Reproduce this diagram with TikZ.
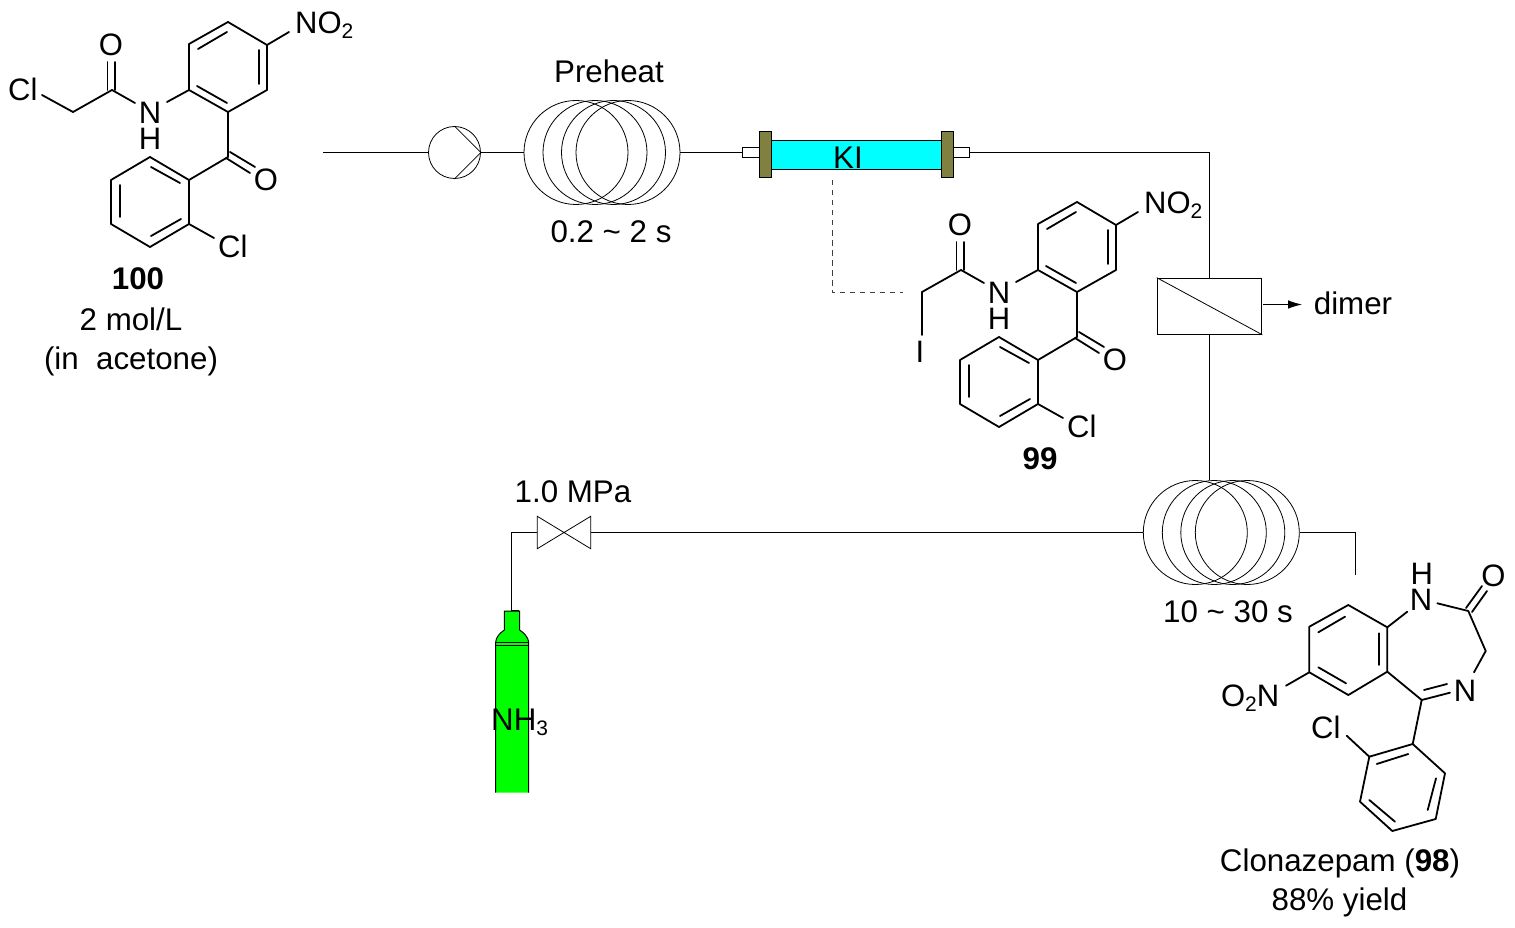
\documentclass[tikz,border=0pt]{standalone}
\usepackage{fontspec}
\setmainfont{Liberation Sans}
\usetikzlibrary{arrows.meta}
\newcommand{\lblfont}{\fontsize{31.3}{31.3}\selectfont}
\newcommand{\atomfont}{\fontsize{31}{31}\selectfont}
\newcommand{\subtwo}[1]{\raisebox{-5pt}{\fontsize{21}{21}\selectfont #1}}
\definecolor{flangecol}{RGB}{128,128,64}
\definecolor{kicyan}{RGB}{0,255,255}
\definecolor{gasgreen}{RGB}{0,255,0}
\tikzset{
  x=1pt,y=-1pt,
  bond/.style={line width=1.8pt,line cap=round,line join=round,black},
  pipe/.style={line width=1pt,black},
  thin line/.style={line width=0.8pt,black},
  lbl/.style={inner sep=0pt,anchor=base,yshift=-0.8pt,text=black,font=\lblfont},
  atom/.style={inner sep=0pt,anchor=base,yshift=-0.8pt,text=black,font=\atomfont},
  atomw/.style={inner sep=0pt,anchor=base west,yshift=-0.8pt,text=black,font=\atomfont},
  atome/.style={inner sep=0pt,anchor=base east,yshift=-0.8pt,text=black,font=\atomfont},
  coilbox/.style={inner sep=0pt,minimum width=156pt,minimum height=104pt},
  flange/.style={draw=black,line width=1.1pt,fill=flangecol,inner sep=0pt,minimum width=12pt,minimum height=46pt},
  stub/.style={draw=black,line width=1.1pt,fill=white,inner sep=0pt,minimum height=10pt},
}
% the amide half shared by 100 and 99: everything except the alpha substituent
\newcommand{\benzophenone}{%
  \coordinate (r1) at (228,22);
  \coordinate (r2) at (267,45);
  \coordinate (r3) at (267,90);
  \coordinate (r4) at (228,112);
  \coordinate (r5) at (189,90);
  \coordinate (r6) at (189,44);
  \coordinate (co) at (228,157);
  \coordinate (p1) at (189,180);
  \coordinate (p2) at (189,224);
  \coordinate (p3) at (150,247);
  \coordinate (p4) at (111,224);
  \coordinate (p5) at (111,180);
  \coordinate (p6) at (150,157);
  \coordinate (am) at (112,90);
  \coordinate (ch) at (73,112);
  \draw[bond] (r1)--(r2)--(r3)--(r4)--(r5)--(r6)--cycle;
  \draw[bond] (198,49)--(227,32);
  \draw[bond] (259,50)--(259,84);
  \draw[bond] (197,86)--(227,103);
  \draw[bond] (r2)--(289,32);
  \draw[bond] (r5)--(167,102);
  \draw[bond] (am)--(135,103);
  \draw[bond] (am)--(ch);
  \draw[bond] (107.5,62)--(107.5,90);
  \draw[bond] (115,62)--(115,90);
  \draw[bond] (r4)--(co)--(p1);
  \draw[bond] (226,158)--(250,173);
  \draw[bond] (230,152)--(255,167);
  \draw[bond] (p1)--(p2)--(p3)--(p4)--(p5)--(p6)--cycle;
  \draw[bond] (151,167)--(180,183);
  \draw[bond] (120,185)--(120,217);
  \draw[bond] (151,236)--(181,219);
  \draw[bond] (p2)--(214,238);
  \node[atomw] (no2) at (295,32.5) {NO\subtwo{2}};
  \node[atom] (oa) at (111,55) {O};
  \node[atom] (nh) at (150,122.5) {N};
  \node[atom] (hn) at (150,149) {H};
  \node[atom] (ok) at (266,190) {O};
  \node[atomw] (clb) at (218,257) {Cl};
}
\newcommand{\coilloops}[1]{%
  \foreach \dx in {-26,-7,11.5,26}
    \draw[thin line] ([xshift=\dx pt]#1.center) circle[radius=52pt];
}
\begin{document}
\begin{tikzpicture}
\useasboundingbox (0,0) rectangle (1515,928);
% ---------- compound 100
\begin{scope}[name prefix=a-]
  \benzophenone
  \draw[bond] (ch)--(42,95);
  \node[atomw] (cla) at (8,100) {Cl};
  \node[lbl,font=\lblfont\bfseries] (n100) at (138,288.5) {100};
  \node[lbl] (conc) at (131,330) {2 mol/L};
  \node[lbl] (solv) at (131,369) {(in\ \ acetone)};
\end{scope}
% ---------- compound 99
\begin{scope}[shift={(849,180)},name prefix=b-]
  \benzophenone
  \draw[bond] (ch)--(73,155);
  \node[atom] (iod) at (71,181.5) {I};
  \coordinate (dashend) at (54,112.7);
  \node[lbl,font=\lblfont\bfseries] (n99) at (191,289) {99};
\end{scope}
% ---------- flow equipment
\coordinate (feed) at (323,152.5);
\node[circle,draw=black,line width=0.8pt,inner sep=0pt,minimum size=52pt] (pump) at (454.5,152.5) {};
\draw[thin line] (pump.north) -- (pump.east) -- (pump.south);
\node[coilbox] (coilA) at (602,152.5) {};
\coilloops{coilA}
\node[stub,minimum width=17pt] (stubL) at (750.8,152.5) {};
\node[stub,minimum width=16pt] (stubR) at (961.3,152.5) {};
\node[draw=black,line width=1.1pt,fill=kicyan,inner sep=0pt,minimum width=171pt,minimum height=29pt] (column) at (856.3,155) {};
\node[flange] (flangeL) at (765.3,154.5) {};
\node[flange] (flangeR) at (947.3,154.5) {};
\node[lbl] (ki) at (848,168) {KI};
\node[draw=black,line width=1.1pt,inner sep=0pt,minimum width=104.5pt,minimum height=56pt] (filter) at (1209.5,306.2) {};
\draw[thin line] (filter.north west) -- (filter.south east);
\node[coilbox] (coilB) at (1221.3,532.5) {};
\coilloops{coilB}
\node[inner sep=0pt,minimum width=53pt,minimum height=32pt] (valve) at (564,532.5) {};
\draw[thin line] (valve.north west) -- (valve.south east) -- (valve.north east) -- (valve.south west) -- cycle;
\coordinate (bend1) at (1209.5,152.5);
\coordinate (outbend) at (1355.5,532.5);
\coordinate (outend) at (1355.5,575);
\coordinate (dimerstart) at (1263,304.5);
\coordinate (dimerend) at (1302,304.5);
\coordinate (kidrop) at (832.5,180);
\coordinate (cyltop) at (511.5,611);
% ---------- connectors
\draw[pipe] (feed) -- (pump.west);
\draw[pipe] (pump.east) -- (coilA.west);
\draw[pipe] (coilA.east) -- (stubL.west);
\draw[pipe] (stubR.east) -- (bend1) -- (filter.north);
\draw[pipe] (filter.south) -- (filter.south |- coilB.north);
\draw[pipe] (coilB.west) -- (valve.east);
\draw[pipe] (valve.west) -| (cyltop);
\draw[pipe] (coilB.east) -- (outbend) -- (outend);
\draw[line width=0.9pt,black,-{Latex[length=14pt,width=8.5pt]}] (dimerstart) -- (dimerend);
\draw[line width=0.9pt,black!75,dash pattern=on 5.5pt off 4.5pt] (kidrop) |- (b-dashend);
% ---------- gas cylinder
\path[fill=gasgreen] (504.3,611) -- (519.7,611) -- (519.7,630) .. controls (524,633) and (528,637) .. (528.7,642) -- (528.7,792.7) -- (495.7,792.7) -- (495.7,642) .. controls (496,637) and (500,633) .. (504.3,630) -- cycle;
\draw[pipe] (495.7,792.7) -- (495.7,642) .. controls (496,637) and (500,633) .. (504.3,630) -- (504.3,611) -- (519.7,611) -- (519.7,630) .. controls (524,633) and (528,637) .. (528.7,642) -- (528.7,792.7);
\draw[thin line] (495.7,642) -- (528.7,642);
\draw[thin line] (495.7,645) -- (528.7,645);
\draw[line width=1.6pt,black] (511.5,610.5) -- (519,610.5);
\node[lbl,anchor=base west] (nh3) at (491,730) {NH\subtwo{3}};
% ---------- labels
\node[lbl] (preheat) at (609,82) {Preheat};
\node[lbl] (tA) at (611,242) {0.2 \textasciitilde{} 2 s};
\node[lbl] (mpa) at (573,502) {1.0 MPa};
\node[lbl] (tB) at (1228,622) {10 \textasciitilde{} 30 s};
\node[lbl] (dimer) at (1353,314) {dimer};
\node[lbl] (name98) at (1340,871) {Clonazepam (\textbf{98})};
\node[lbl] (yield) at (1339.5,910) {88\% yield};
% ---------- clonazepam 98
\begin{scope}[name prefix=c-]
  \coordinate (b1) at (1348.3,605);
  \coordinate (b2) at (1387.3,627.3);
  \coordinate (b3) at (1387.3,671.7);
  \coordinate (b4) at (1348.3,695);
  \coordinate (b5) at (1309.3,672.3);
  \coordinate (b6) at (1309.3,626.7);
  \coordinate (cam) at (1468.3,611);
  \coordinate (cm) at (1485.7,651);
  \coordinate (cim) at (1421.7,700);
  \coordinate (f1) at (1412.7,744);
  \coordinate (f2) at (1445,773.3);
  \coordinate (f3) at (1435.7,819);
  \coordinate (f4) at (1392.3,831);
  \coordinate (f5) at (1360,801.7);
  \coordinate (f6) at (1369.3,756.7);
  \draw[bond] (b1)--(b2)--(b3)--(b4)--(b5)--(b6)--cycle;
  \draw[bond] (1318.3,632.3)--(1345,616.7);
  \draw[bond] (1379.3,633.3)--(1379.3,665);
  \draw[bond] (1318.3,667.3)--(1346,683.3);
  \draw[bond] (b2)--(1407.3,611.7);
  \draw[bond] (1437.3,603.3)--(cam)--(cm)--(1474,672.3);
  \draw[bond] (1466,608)--(1482,586);
  \draw[bond] (1472,612)--(1487,591);
  \draw[bond] (b3)--(cim)--(1450,692.7);
  \draw[bond] (1424,690)--(1447,684);
  \draw[bond] (cim)--(f1);
  \draw[bond] (f1)--(f2)--(f3)--(f4)--(f5)--(f6)--cycle;
  \draw[bond] (1376.7,764)--(1408.3,754);
  \draw[bond] (1436,778.3)--(1427.7,810);
  \draw[bond] (1369.3,800)--(1395,821.7);
  \draw[bond] (f6)--(1346.7,735.7);
  \draw[bond] (b5)--(1286,685.7);
  \node[atom] (h1) at (1421.7,584) {H};
  \node[atom] (n1) at (1421,609.5) {N};
  \node[atom] (o2) at (1493.3,586) {O};
  \node[atom] (n4) at (1465,701) {N};
  \node[atome] (o2n) at (1279.5,706) {O\subtwo{2}N};
  \node[atomw] (cl) at (1311,738) {Cl};
\end{scope}
\end{tikzpicture}
\end{document}
